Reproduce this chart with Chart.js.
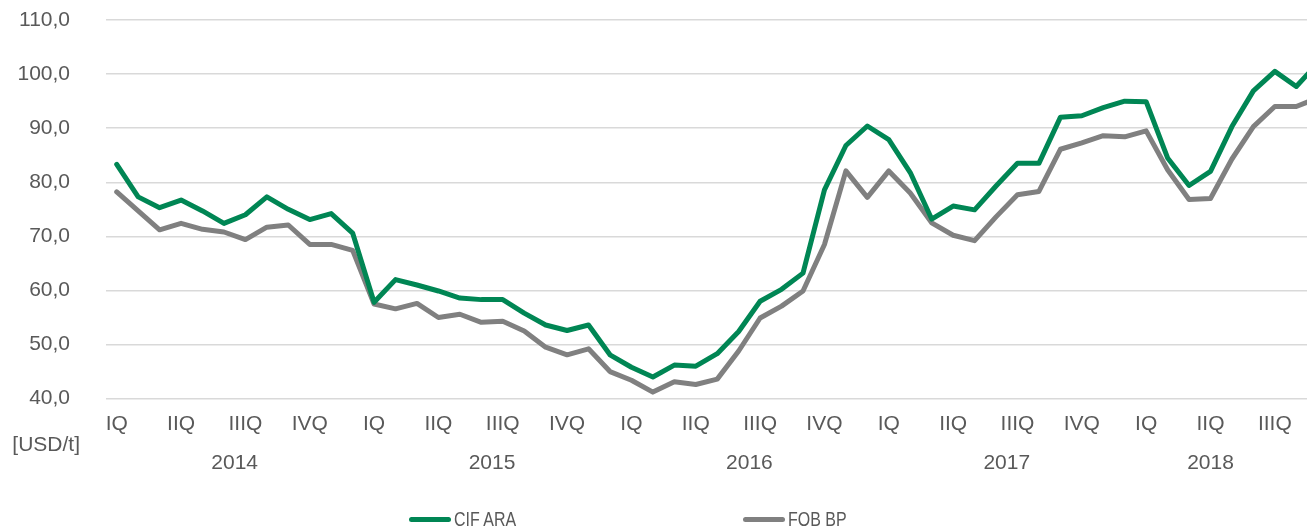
<!DOCTYPE html>
<html>
<head>
<meta charset="utf-8">
<script src="https://cdn.jsdelivr.net/npm/chart.js@4"></script>
<style>
  html, body { margin: 0; padding: 0; background: #fff; overflow: hidden; }
  #wrap { position: relative; width: 1307px; height: 527px; }
  #legend { position: absolute; left: 409px; top: 507px; display: flex; }
  .item { width: 334px; height: 24px; display: flex; align-items: center; }
  .swatch { width: 42px; height: 5px; border-radius: 3px; margin-right: 3px; }
  .txt { font: 21px 'Liberation Sans', Arial, sans-serif; color: #595959; white-space: nowrap;
         transform: scaleX(.76); transform-origin: left center; }
</style>
</head>
<body>
<div id="wrap">
  <canvas id="myChart" width="1307" height="527"></canvas>
  <div id="legend"></div>
</div>
<script>
// monthly prices, Jan 2014 .. Sep 2018 (last one only partly visible)
const years = ['2014', '2015', '2016', '2017', '2018'];
const quarterLabels = ['IQ', 'IIQ', 'IIIQ', 'IVQ'];
const yearLabelAt = [5.5, 17.5, 29.5, 41.5, 51];
const unit = '[USD/t]';

const cifAra = [
  83.3, 77.3, 75.3, 76.7, 74.7, 72.4, 74.0, 77.3, 75.0, 73.1, 74.2, 70.6,
  57.8, 62.0, 61.0, 59.9, 58.6, 58.3, 58.3, 55.8, 53.6, 52.6, 53.6, 48.1,
  45.8, 44.0, 46.2, 46.0, 48.3, 52.4, 58.0, 60.2, 63.2, 78.6, 86.8, 90.4,
  87.9, 81.8, 73.2, 75.6, 74.9, 79.3, 83.5, 83.5, 92.0, 92.3, 93.8, 95.0,
  94.9, 84.5, 79.4, 82.0, 90.3, 96.9, 100.5, 97.7, 102.0
];
const fobBp = [
  78.2, 74.7, 71.2, 72.4, 71.3, 70.8, 69.4, 71.7, 72.1, 68.5, 68.5, 67.4,
  57.5, 56.6, 57.6, 55.0, 55.6, 54.1, 54.3, 52.5, 49.5, 48.1, 49.2, 45.0,
  43.4, 41.2, 43.1, 42.6, 43.6, 48.8, 54.9, 57.1, 59.9, 68.5, 82.1, 77.2,
  82.1, 78.0, 72.5, 70.2, 69.2, 73.6, 77.7, 78.3, 86.1, 87.3, 88.6, 88.4,
  89.5, 82.3, 76.8, 77.0, 84.3, 90.3, 94.0, 94.0, 95.6
];

const months = cifAra.map((v, i) => i);
const shownMonths = 56;

const textColor = '#595959';
const fontFamily = "'Liberation Sans', Arial, sans-serif";

// keep the scales from adding their own label padding to the layout
const noPad = s => { s.paddingTop = 0; s.paddingBottom = 0; s.paddingLeft = 0; s.paddingRight = 0; };

const unitLabel = {
  id: 'unitLabel',
  afterDraw(chart) {
    const { ctx, chartArea } = chart;
    const y = chart.scales.y;
    ctx.save();
    ctx.font = '21px ' + fontFamily;
    ctx.fillStyle = textColor;
    ctx.textAlign = 'right';
    ctx.textBaseline = 'middle';
    ctx.fillText(unit, y.right - 26, chartArea.bottom + 47);
    ctx.restore();
  }
};

let ctx = document.getElementById('myChart').getContext('2d');
let myChart = new Chart(ctx, {
  type: 'line',
  data: {
    datasets: [
      {
        label: 'CIF ARA',
        data: months.map(i => ({ x: i, y: cifAra[i] })),
        borderColor: 'rgb(0, 134, 84)',
        borderWidth: 5,
      },
      {
        label: 'FOB BP',
        data: months.map(i => ({ x: i, y: fobBp[i] })),
        borderColor: 'rgb(128, 128, 128)',
        borderWidth: 5,
      },
    ],
  },
  options: {
    responsive: false,
    animation: false,
    layout: { padding: { left: -52, right: 0, top: 20, bottom: 50 } },
    elements: {
      point: { radius: 0 },
      line: { tension: 0, borderJoinStyle: 'round', borderCapStyle: 'round' },
    },
    plugins: { legend: { display: false }, tooltip: { enabled: false } },
    scales: {
      x: {
        type: 'linear',
        min: -0.5,
        max: shownMonths - 0.5,
        grid: { display: false, drawTicks: false },
        border: { display: false },
        afterBuildTicks: s => {
          s.ticks = months.filter(i => i % 3 === 0 && i < shownMonths).map(v => ({ value: v }));
        },
        afterFit: noPad,
        ticks: {
          autoSkip: false,
          maxRotation: 0,
          padding: 13,
          color: textColor,
          font: { size: 21, family: fontFamily },
          callback: v => quarterLabels[(v / 3) % 4],
        },
      },
      x2: {
        type: 'linear',
        position: 'bottom',
        min: -0.5,
        max: shownMonths - 0.5,
        grid: { display: false, drawTicks: false },
        border: { display: false },
        afterBuildTicks: s => {
          s.ticks = yearLabelAt.map(v => ({ value: v }));
        },
        afterFit: noPad,
        ticks: {
          autoSkip: false,
          maxRotation: 0,
          padding: 1,
          color: textColor,
          font: { size: 21, family: fontFamily },
          callback: (v, i) => years[i],
        },
      },
      y: {
        min: 40,
        max: 110,
        afterFit: s => { s.width = 158; noPad(s); },
        grid: { color: '#d9d9d9', lineWidth: 1.5, drawTicks: false },
        border: { display: false },
        ticks: {
          stepSize: 10,
          padding: 36,
          color: textColor,
          font: { size: 21, family: fontFamily },
          callback: v => v.toFixed(1).replace('.', ','),
        },
      },
    },
  },
  plugins: [unitLabel],
});

// legend built from the chart's own datasets
const legendBox = document.getElementById('legend');
myChart.data.datasets.forEach(ds => {
  const item = document.createElement('div');
  item.className = 'item';
  const sw = document.createElement('span');
  sw.className = 'swatch';
  sw.style.background = ds.borderColor;
  const txt = document.createElement('span');
  txt.className = 'txt';
  txt.textContent = ds.label;
  item.appendChild(sw);
  item.appendChild(txt);
  legendBox.appendChild(item);
});
</script>
</body>
</html>
